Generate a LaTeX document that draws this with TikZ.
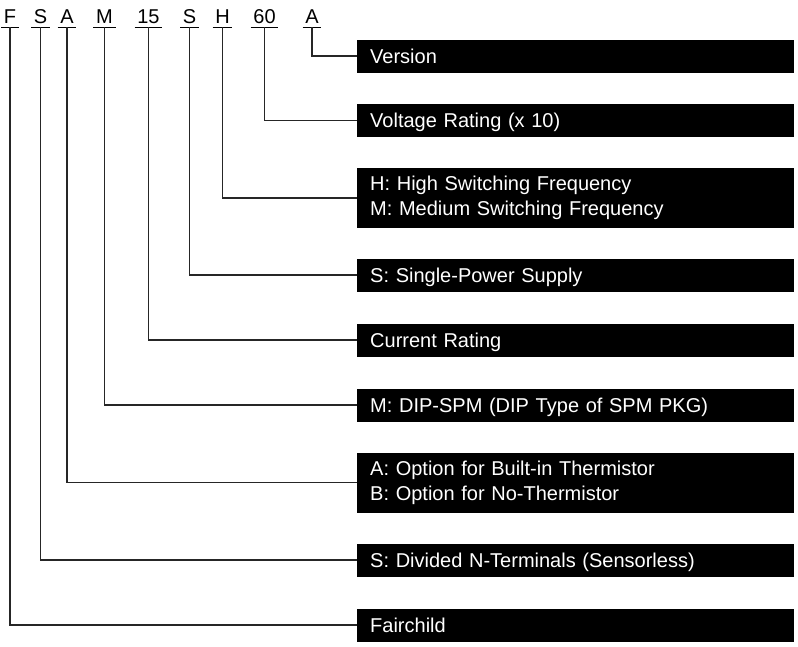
\documentclass[tikz,border=0pt]{standalone}
\usepackage{fontspec}
\setmainfont{Liberation Sans}
\begin{document}
\begin{tikzpicture}[x=1pt,y=-1pt,
  txt/.style={font=\fontsize{20}{25}\selectfont},
  letter/.style={txt,anchor=base,inner xsep=2.5pt,inner ysep=3.5pt,text depth=0pt},
  uline/.style={line width=1.2pt},
  conn/.style={line width=1.2pt,draw=black!85},
  boxbase/.style={txt,anchor=west,fill=black,text=white,inner xsep=13pt,inner ysep=0pt,
    text width=411pt,align=left},
  boxone/.style={boxbase,minimum height=33pt,text height=14.3pt,text depth=0pt},
  boxtwo/.style={boxbase,minimum height=60pt}]
\useasboundingbox (0,0) rectangle (798,646);
% code letters
\node[letter] (l1) at (10,23.5) {F};
\node[letter] (l2) at (40.5,23.5) {S};
\node[letter] (l3) at (67,23.5) {A};
\node[letter] (l4) at (104.5,23.5) {M};
\node[letter] (l5) at (148.5,23.5) {15};
\node[letter] (l6) at (189.5,23.5) {S};
\node[letter] (l7) at (222.5,23.5) {H};
\node[letter] (l8) at (264.5,23.5) {60};
\node[letter] (l9) at (312,23.5) {A};
\foreach \n in {l1,l2,l3,l4,l5,l6,l7,l8,l9}
  \draw[uline] (\n.south west) -- (\n.south east);
% boxes
\node[boxone] (b9) at (357,56) {Version};
\node[boxone] (b8) at (357,120.5) {Voltage Rating (x 10)};
\node[boxtwo] (b7) at (357,198) {H: High Switching Frequency\\M: Medium Switching Frequency};
\node[boxone] (b6) at (357,275) {S: Single-Power Supply};
\node[boxone] (b5) at (357,340) {Current Rating};
\node[boxone] (b4) at (357,405) {M: DIP-SPM (DIP Type of SPM PKG)};
\node[boxtwo] (b3) at (357,482.5) {A: Option for Built-in Thermistor\\B: Option for No-Thermistor};
\node[boxone] (b2) at (357,560) {S: Divided N-Terminals (Sensorless)};
\node[boxone] (b1) at (357,625) {Fairchild};
% connectors
\foreach \i in {1,...,9}
  \draw[conn] (l\i.south) |- (b\i.west);
\end{tikzpicture}
\end{document}
